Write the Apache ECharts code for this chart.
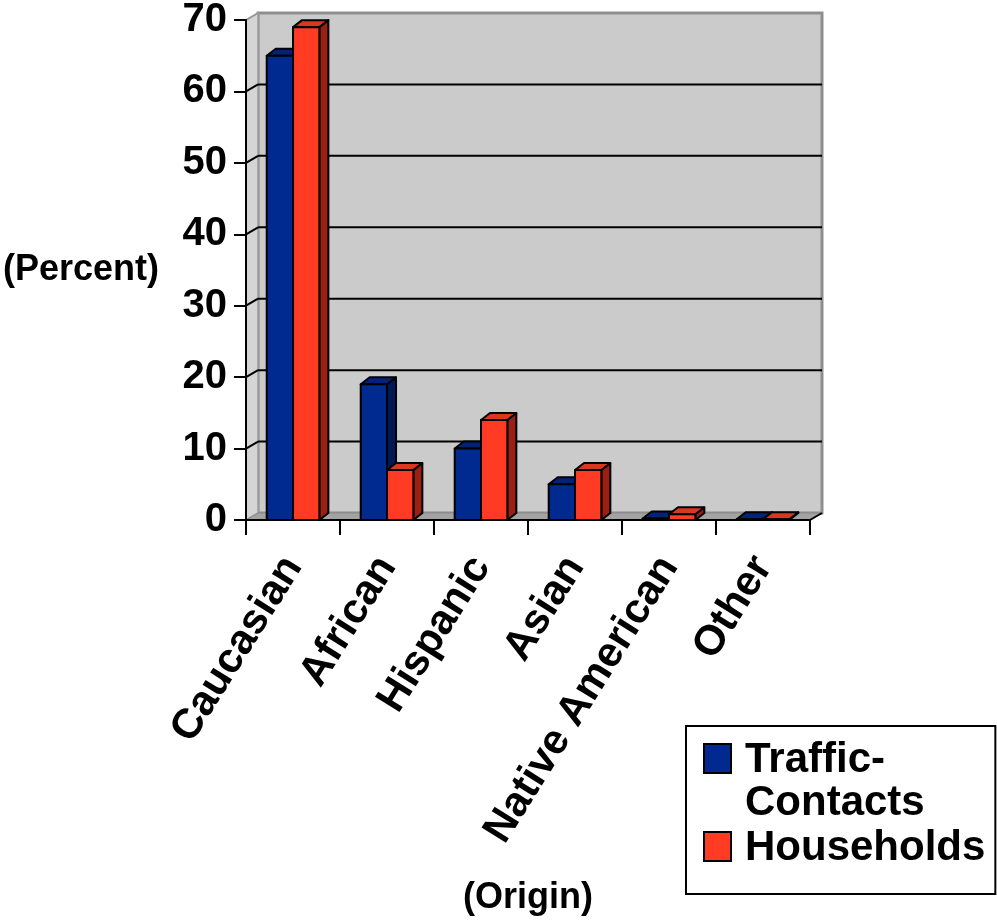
<!DOCTYPE html>
<html>
<head>
<meta charset="utf-8">
<script src="https://cdn.jsdelivr.net/npm/echarts@6/dist/echarts.min.js"></script>
<style>
  html, body { margin: 0; padding: 0; background: #ffffff; }
  #chart { width: 997px; height: 921px; }
</style>
</head>
<body>
<div id="chart"></div>
<script>
// Origin categories along the x axis
const categories = ['Caucasian', 'African', 'Hispanic', 'Asian', 'Native American', 'Other'];
// Percent shares per origin group
const trafficContacts = [65, 19, 10, 5, 0.2, 0.1];
const households = [69, 7, 14, 7, 0.8, 0.1];
// Value axis ticks
const yTicks = [0, 10, 20, 30, 40, 50, 60, 70];

const FONT = '"Liberation Sans", Arial, Helvetica, sans-serif';

// Depth of the box walls and of each column (pseudo 3D look)
const WALL_DX = 12, WALL_DY = -7;
const BAR_DX = 9, BAR_DY = -7;

const seriesStyles = [
  { name: 'Traffic-Contacts', front: '#002a8f', top: '#00237a', side: '#001858' },
  { name: 'Households', front: '#ff3b24', top: '#d9381f', side: '#9a2012' }
];

// Legend swatches: a square placed inside a tall item box so it sits beside the first text line
const ICON_TRAFFIC = 'path://M0,0M0,5L27,5L27,34L0,34Z M27,86';
const ICON_HOUSEHOLDS = 'path://M0,0M0,27L27,27L27,56L0,56Z M27,86';

function barRenderer(seriesIdx) {
  const st = seriesStyles[seriesIdx];
  return function (params, api) {
    const cat = api.value(0);
    const v = api.value(1);
    const band = api.size([1, 0])[0];
    const w = band * 0.28;
    const center = api.coord([cat, 0]);
    const top = api.coord([cat, v]);
    const yb = center[1];
    const yt = top[1];
    const x0 = seriesIdx === 0 ? center[0] - w : center[0];
    const x1 = x0 + w;
    const stroke = { stroke: '#000', lineWidth: 2, lineJoin: 'round' };
    return {
      type: 'group',
      children: [
        {
          type: 'polygon',
          shape: { points: [[x1, yt], [x1 + BAR_DX, yt + BAR_DY], [x1 + BAR_DX, yb + BAR_DY], [x1, yb]] },
          style: Object.assign({ fill: st.side }, stroke)
        },
        {
          type: 'polygon',
          shape: { points: [[x0, yt], [x1, yt], [x1 + BAR_DX, yt + BAR_DY], [x0 + BAR_DX, yt + BAR_DY]] },
          style: Object.assign({ fill: st.top }, stroke)
        },
        {
          type: 'rect',
          shape: { x: x0, y: yt, width: w, height: yb - yt },
          style: Object.assign({ fill: st.front }, stroke)
        }
      ]
    };
  };
}

// Back wall, left wall and floor of the chart box
function wallRenderer(params, api) {
  const cs = params.coordSys;
  const xl = cs.x, xr = cs.x + cs.width;
  const yt = cs.y, yb = cs.y + cs.height;
  const dx = WALL_DX, dy = WALL_DY;
  return {
    type: 'group',
    children: [
      {
        type: 'rect',
        shape: { x: xl + dx, y: yt + dy, width: cs.width, height: cs.height },
        style: { fill: '#cbcbcb', stroke: '#8f8f8f', lineWidth: 3 }
      },
      {
        type: 'polygon',
        shape: { points: [[xl, yt], [xl + dx, yt + dy], [xl + dx, yb + dy], [xl, yb]] },
        style: { fill: '#d5d5d5', stroke: '#9a9a9a', lineWidth: 1.5 }
      },
      {
        type: 'polygon',
        shape: { points: [[xl, yb], [xr, yb], [xr + dx, yb + dy], [xl + dx, yb + dy]] },
        style: { fill: '#a3a3a3', stroke: '#8a8a8a', lineWidth: 1 }
      },
      {
        type: 'line',
        shape: { x1: xr, y1: yb, x2: xr + dx, y2: yb + dy },
        style: { stroke: '#000', lineWidth: 2 }
      }
    ]
  };
}

// Gridlines on the back wall, joined to the front axis across the left wall
function gridRenderer(params, api) {
  const cs = params.coordSys;
  const v = api.value(1);
  const p = api.coord([0, v]);
  const y = p[1];
  const xl = cs.x, xr = cs.x + cs.width;
  const children = [];
  if (v > 0 && v < 70) {
    children.push({
      type: 'line',
      shape: { x1: xl + WALL_DX, y1: y + WALL_DY, x2: xr + WALL_DX, y2: y + WALL_DY },
      style: { stroke: '#000', lineWidth: 2 }
    });
  }
  if (v > 0) {
    children.push({
      type: 'line',
      shape: { x1: xl, y1: y, x2: xl + WALL_DX, y2: y + WALL_DY },
      style: { stroke: v < 70 ? '#000' : '#9a9a9a', lineWidth: v < 70 ? 2 : 1.5 }
    });
  }
  return { type: 'group', children: children };
}

const chart = echarts.init(document.getElementById('chart'), null, { renderer: 'canvas' });

chart.setOption({
  backgroundColor: '#ffffff',
  animation: false,
  grid: { left: 244, top: 18, right: 187, bottom: 401, containLabel: false },
  xAxis: {
    type: 'category',
    data: categories,
    boundaryGap: true,
    name: '(Origin)',
    nameLocation: 'middle',
    nameGap: 360,
    nameTextStyle: { fontFamily: FONT, fontWeight: 'bold', fontSize: 36, color: '#000' },
    axisLine: { lineStyle: { color: '#000', width: 2 } },
    axisTick: { show: true, length: 15, lineStyle: { color: '#000', width: 2 } },
    axisLabel: {
      interval: 0,
      rotate: 58,
      margin: 40,
      fontFamily: FONT,
      fontWeight: 'bold',
      fontSize: 42,
      color: '#000'
    },
    splitLine: { show: false },
    z: 10
  },
  yAxis: {
    type: 'value',
    min: 0,
    max: 70,
    interval: 10,
    name: '(Percent)',
    nameLocation: 'middle',
    nameRotate: 0,
    nameGap: 87,
    nameTextStyle: { fontFamily: FONT, fontWeight: 'bold', fontSize: 36, color: '#000' },
    axisLine: { show: true, lineStyle: { color: '#000', width: 2 } },
    axisTick: { show: true, length: 12, lineStyle: { color: '#000', width: 2 } },
    axisLabel: {
      margin: 19,
      fontFamily: FONT,
      fontWeight: 'bold',
      fontSize: 40,
      color: '#000'
    },
    splitLine: { show: false },
    z: 10
  },
  legend: {
    data: [
      { name: 'Traffic-Contacts', icon: ICON_TRAFFIC },
      { name: 'Households', icon: ICON_HOUSEHOLDS }
    ],
    orient: 'vertical',
    left: 686,
    top: 726,
    padding: [12, 10, 2, 17],
    itemGap: -22,
    itemWidth: 27,
    itemHeight: 86,
    borderColor: '#000',
    borderWidth: 2,
    borderRadius: 0,
    backgroundColor: '#ffffff',
    selectedMode: false,
    itemStyle: { borderColor: '#000', borderWidth: 2 },
    formatter: function (name) {
      return name === 'Traffic-Contacts' ? 'Traffic-\nContacts' : name;
    },
    textStyle: {
      fontFamily: FONT,
      fontWeight: 'bold',
      fontSize: 42,
      lineHeight: 43,
      padding: [0, 0, 0, 9],
      color: '#000'
    }
  },
  series: [
    {
      name: 'walls',
      type: 'custom',
      renderItem: wallRenderer,
      data: [[0, 0]],
      silent: true,
      z: 1
    },
    {
      name: 'gridlines',
      type: 'custom',
      renderItem: gridRenderer,
      data: yTicks.map(function (t) { return [0, t]; }),
      silent: true,
      z: 2
    },
    {
      name: 'Traffic-Contacts',
      type: 'custom',
      renderItem: barRenderer(0),
      itemStyle: { color: seriesStyles[0].front },
      encode: { x: 0, y: 1 },
      data: trafficContacts.map(function (v, i) { return [i, v]; }),
      z: 3
    },
    {
      name: 'Households',
      type: 'custom',
      renderItem: barRenderer(1),
      itemStyle: { color: seriesStyles[1].front },
      encode: { x: 0, y: 1 },
      data: households.map(function (v, i) { return [i, v]; }),
      z: 4
    }
  ]
});
</script>
</body>
</html>
